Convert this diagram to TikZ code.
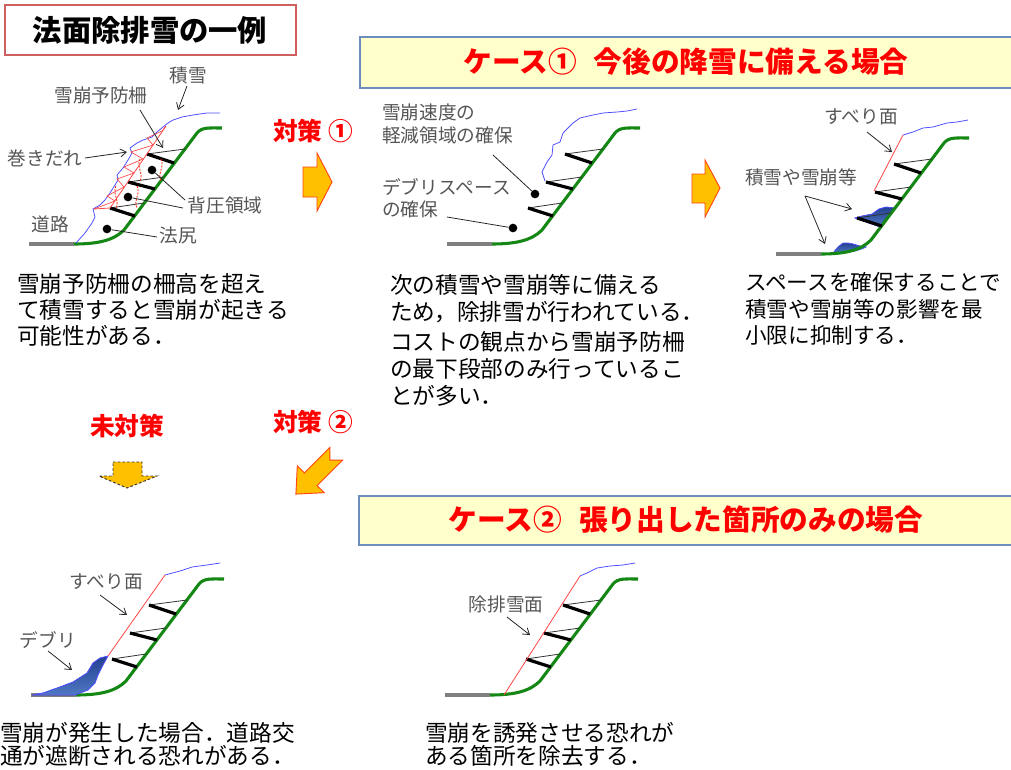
\documentclass[tikz,border=0pt]{standalone}
\usepackage{fontspec}
\setmainfont{Noto Sans CJK JP}
\usetikzlibrary{arrows.meta}

\definecolor{snowblue}{RGB}{80,80,255}
\definecolor{slopegreen}{RGB}{20,135,20}
\definecolor{roadgray}{RGB}{128,128,128}
\definecolor{cutred}{RGB}{255,70,70}
\definecolor{labelgray}{RGB}{85,85,85}
\definecolor{boxfill}{RGB}{255,255,204}
\definecolor{boxline}{RGB}{108,142,191}
\definecolor{titleline}{RGB}{205,95,95}
\definecolor{arrowfill}{RGB}{255,192,0}
\definecolor{arrowline}{RGB}{255,70,20}
\definecolor{debrisdark}{RGB}{35,65,145}
\definecolor{debrislight}{RGB}{80,120,195}
\definecolor{headred}{RGB}{255,0,0}

\tikzset{
  road/.style={draw=roadgray, line width=3pt},
  ground/.style={draw=slopegreen, line width=2.3pt},
  fencepanel/.style={draw=black, line width=2.4pt},
  fencewire/.style={draw=black!80, line width=0.6pt},
  snowline/.style={draw=snowblue, line width=0.6pt},
  cutline/.style={draw=cutred, line width=0.6pt},
  hatch/.style={draw=cutred, line width=0.5pt},
  pressure/.style={draw=red!75!orange, line width=0.6pt, dash pattern=on 1.5pt off 1pt},
  lbl/.style={text=labelgray, font=\fontsize{14}{17}\selectfont, inner sep=0pt},
  lblblock/.style={lbl, align=left, anchor=north west},
  para/.style={font=\fontsize{17}{#1}\selectfont, align=left, anchor=north west, inner sep=0pt},
  redhead/.style={text=headred, font=\bfseries\fontsize{18.5}{22}\selectfont, inner sep=0pt},
  casetitle/.style={text=headred, font=\bfseries\fontsize{21.5}{25}\selectfont, inner sep=0pt},
  casebox/.style={fill=boxfill, draw=boxline, line width=1.8pt},
  pointer/.style={draw=black!85, line width=0.6pt, -{Straight Barb[length=4.5pt,width=6pt]}},
  leader/.style={draw=black!85, line width=0.6pt},
  dot/.style={fill=black, circle, inner sep=0pt, minimum size=6.5pt},
  blockarrow/.style={fill=arrowfill, draw=arrowline, line width=0.7pt, line join=miter},
  deposit/.style={draw=snowblue, line width=0.6pt, top color=debrisdark, bottom color=debrislight},
  slopebase/.pic={
    \draw[road] (0,0) -- (45,0);
    \draw[ground] (45,0) .. controls (70,0) and (85,-4) .. (95,-14) -- (168,-111)
      .. controls (173,-117) and (180,-116) .. (193,-116);
    \foreach \tx/\ty/\fx/\fy/\ex/\ey in {81/-36/106/-28/115/-41, 99/-62/126/-55/135/-67, 118/-90/145/-81/156/-95}{
      \draw[fencewire] (\tx,\ty) -- (\ex,\ey);
      \draw[fencepanel] (\tx,\ty) -- (\fx,\fy);
    }
  }
}

\begin{document}
\begin{tikzpicture}[x=0.75pt,y=-0.75pt]
\useasboundingbox (0,0) rectangle (1011,769);
\clip (0,0) rectangle (1011,769);

% ---------- headings ----------
\draw[draw=titleline, line width=1.8pt, fill=white] (5,5) rectangle (296,55);
\node[font=\bfseries\fontsize{22}{26}\selectfont, inner sep=0pt] (title) at (150,30) {法面除排雪の一例};

\draw[casebox] (360,37) rectangle (1030,88);
\node[casetitle] (caseone) at (686,62) {ケース①\hspace{0.6em}今後の降雪に備える場合};
\draw[casebox] (359,496) rectangle (1030,545);
\node[casetitle] (casetwo) at (686,520) {ケース②\hspace{0.6em}張り出した箇所のみの場合};

\node[redhead] (measA) at (313,131) {対策 ①};
\node[redhead] (measB) at (313,422) {対策 ②};
\node[redhead] (nomeas) at (127,426) {未対策};

% ---------- block arrows ----------
\draw[blockarrow] (303,167) -- (317,167) -- (317,153) -- (332,182) -- (317,211) -- (317,197) -- (303,197) -- cycle;
\draw[blockarrow] (692,174) -- (705,174) -- (705,160) -- (720,188) -- (705,217) -- (705,203) -- (692,203) -- cycle;
\draw[fill=arrowfill, draw=black!80, line width=0.7pt, dash pattern=on 2pt off 1.5pt]
  (113,462) -- (142,462) -- (142,476) -- (157,476) -- (127,488) -- (99,476) -- (113,476) -- cycle;
\begin{scope}[shift={(315,475)}, rotate=225]
  \draw[blockarrow] (-30,-9) -- (6,-9) -- (6,-19) -- (27,0) -- (6,19) -- (6,9) -- (-30,9) -- (-21,0) -- cycle;
\end{scope}

% ---------- slope 1: untreated cornice ----------
\pic at (29,244) {slopebase};
\draw[snowline] (76,243) -- (85,233) -- (92,223) -- (95,217) -- (93,209) -- (100,205) -- (105,200) -- (110,193)
  -- (115,185) -- (118,180) -- (117,175) -- (123,168) -- (128,160) -- (132,153) -- (130,148) -- (137,143)
  -- (143,140) -- (152,137) -- (157,132) -- (163,127) -- (168,123) -- (173,120) -- (182,117) -- (193,115)
  -- (207,113) -- (220,113);
\draw[cutline] (94,209) -- (110,208) -- (166,126);
\draw[hatch] (94,209) -- (115,201) -- (107,196) -- (124,187) -- (117,179) -- (134,173) -- (124,167)
  -- (143,159) -- (131,152) -- (153,145) -- (147,138) -- (162,131) -- (166,126);
\foreach \cx/\cy in {152/170, 128/197}{
  \draw[pressure] (\cx-12,\cy-11) .. controls (\cx-16,\cy-4) and (\cx-8,\cy+4) .. (\cx-12,\cy+11);
  \draw[pressure] (\cx+9,\cy-11) .. controls (\cx+13,\cy-4) and (\cx+5,\cy+4) .. (\cx+9,\cy+11);
}
\node[dot] (bp1) at (152,170) {};
\node[dot] (bp2) at (128,197) {};
\node[dot] (toe) at (107,229) {};

\node[lbl] (lsnow) at (188,75) {積雪};
\node[lbl] (lfence) at (101,95) {雪崩予防柵};
\node[lbl] (lcornice) at (45,158) {巻きだれ};
\node[lbl] (lpress) at (225,205) {背圧領域};
\node[lbl] (ltoe) at (178,235) {法尻};
\node[lbl] (lroad) at (50,224) {道路};
\coordinate (snowA) at (187,86);   \coordinate (snowB) at (178,110);
\coordinate (fenceA) at (140,110); \coordinate (fenceB) at (163,148);
\coordinate (cornA) at (85,158);   \coordinate (cornB) at (127,152);
\coordinate (pressA) at (185,200); \coordinate (pressB) at (183,208);
\coordinate (toeA) at (157,237);
\draw[pointer] (snowA) -- (snowB);
\draw[pointer] (fenceA) -- (fenceB);
\draw[pointer] (cornA) -- (cornB);
\draw[leader] (bp1) -- (pressA);
\draw[leader] (bp2) -- (pressB);
\draw[leader] (toe) -- (toeA);

\node[para=19.5pt] (txtA) at (17,273) {雪崩予防柵の柵高を超え\\て積雪すると雪崩が起きる\\可能性がある．};

% ---------- slope 2: lowest tier cleared ----------
\pic at (447,244) {slopebase};
\draw[snowline] (545,181) -- (542,172) -- (547,162) -- (552,155) -- (553,145) -- (560,142) -- (563,133)
  -- (573,123) -- (580,118) -- (593,115) -- (603,113) -- (617,112) -- (627,111) -- (637,109);
\node[dot] (slowdot) at (535,194) {};
\node[dot] (debdot) at (513,228) {};
\node[lblblock] (lslow) at (382,104) {雪崩速度の\\軽減領域の確保};
\node[lblblock] (ldebris) at (382,178) {デブリスペース\\の確保};
\coordinate (slowA) at (493,155);
\coordinate (debA) at (447,217);
\draw[leader] (slowA) -- (slowdot);
\draw[leader] (debA) -- (debdot);

\node[para=20pt] (txtB) at (390,274) {次の積雪や雪崩等に備える\\ため，除排雪が行われている．\\[3pt]コストの観点から雪崩予防柵\\の最下段部のみ行っているこ\\とが多い．};

% ---------- slope 3: space for deposits ----------
\fill[deposit] (855,218) -- (862,216) -- (872,214) -- (879,209) -- (886,207) -- (895,208) -- (880,227) -- cycle;
\fill[deposit] (833,253) -- (838,247) -- (843,243) -- (848,243) -- (853,244) -- (860,246) -- (866,247)
  .. controls (856,252) and (845,253) .. (833,253) -- cycle;
\pic at (776,254) {slopebase};
\draw[cutline] (874,191) -- (903,135);
\draw[snowline] (903,135) -- (913,132) -- (923,128) -- (933,127) -- (947,123) -- (957,122) -- (968,120);
\node[lbl] (lslipA) at (861,117) {すべり面};
\node[lbl] (ldepo) at (801,177) {積雪や雪崩等};
\coordinate (slipAa) at (867,132); \coordinate (slipAb) at (892,152);
\coordinate (depoA) at (805,196);  \coordinate (depoB) at (852,209); \coordinate (depoC) at (825,244);
\draw[pointer] (slipAa) -- (slipAb);
\draw[pointer] (depoA) -- (depoB);
\draw[pointer] (depoA) -- (depoC);

\node[para=20pt, font=\fontsize{16.2}{20}\selectfont] (txtC) at (745,272) {スペースを確保することで\\積雪や雪崩等の影響を最\\小限に抑制する．};

% ---------- slope 4: avalanche reaches the road ----------
\pic at (31,695) {slopebase};
\fill[deposit] (108,656) -- (100,658) -- (93,663) -- (87,673) -- (73,682) -- (57,688) -- (43,693) -- (32,695)
  -- (75,695) -- (88,690) -- (95,683) -- (98,675) -- (103,665) -- cycle;
\draw[cutline] (108,656) -- (165,575);
\draw[snowline] (165,575) -- (180,571) -- (192,567) -- (207,565) -- (220,563);
\node[lbl] (lslipB) at (106,582) {すべり面};
\node[lbl] (ldeb) at (48,640) {デブリ};
\coordinate (slipBa) at (100,595); \coordinate (slipBb) at (127,615);
\coordinate (debBa) at (48,651);   \coordinate (debBb) at (72,670);
\draw[pointer] (slipBa) -- (slipBb);
\draw[pointer] (debBa) -- (debBb);

\node[para=17.5pt] (txtD) at (0,722) {雪崩が発生した場合．道路交\\通が遮断される恐れがある．};

% ---------- slope 5: overhang removed ----------
\pic at (445,695) {slopebase};
\draw[cutline] (504,695) -- (580,576);
\draw[snowline] (580,576) -- (587,573) -- (597,568) -- (610,566) -- (623,565) -- (635,563);
\node[lbl] (lcut) at (506,604) {除排雪面};
\coordinate (cutA) at (507,617); \coordinate (cutB) at (530,635);
\draw[pointer] (cutA) -- (cutB);

\node[para=17.5pt] (txtE) at (425,722) {雪崩を誘発させる恐れが\\ある箇所を除去する．};

\end{tikzpicture}
\end{document}
